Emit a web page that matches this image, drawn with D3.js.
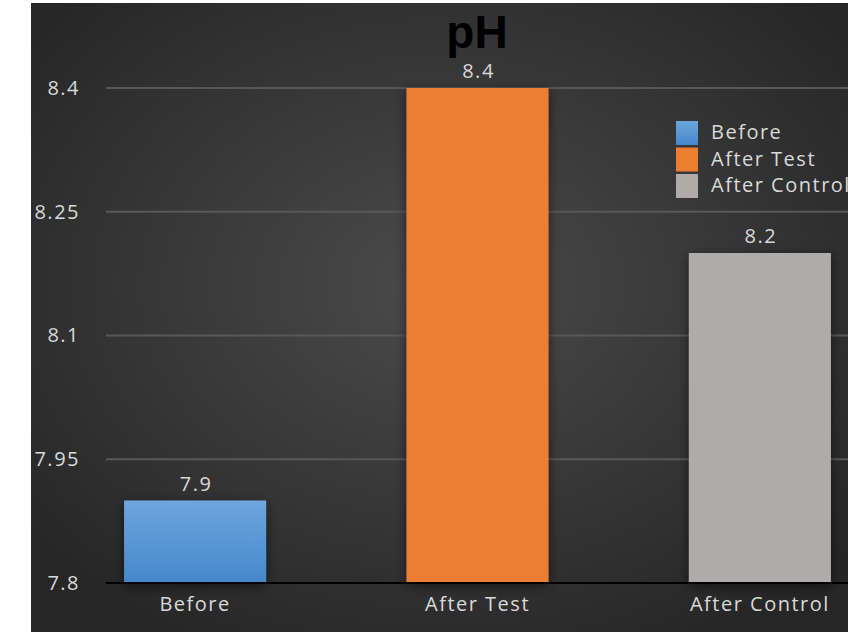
<!DOCTYPE html>
<head>
  <meta charset="utf-8">
  <title>pH</title>
  <style>
    body { margin: 0; background: #fff; }
    svg { display: block; }
  </style>
</head>
<body>
<svg width="848" height="632"></svg>
<script src="https://d3js.org/d3.v7.min.js"></script>
<script>

var categories = ["Before", "After Test", "After Control"];
var values = [7.9, 8.4, 8.2];
var yTicks = [7.8, 7.95, 8.1, 8.25, 8.4];
var colors = ["#5b9bd5", "#ed7d31", "#afabab"];

var svg = d3.select("svg"),
    width = 848,
    height = 632;

var defs = svg.append("defs");

// dark radial background
var bg = defs.append("radialGradient").attr("id", "bg")
    .attr("cx", "50%").attr("cy", "45%").attr("r", "65%");
bg.append("stop").attr("offset", "0%").attr("stop-color", "#4b4b4b");
bg.append("stop").attr("offset", "100%").attr("stop-color", "#262626");

var blue = defs.append("linearGradient").attr("id", "blue")
    .attr("x1", 0).attr("y1", 0).attr("x2", 0).attr("y2", 1);
blue.append("stop").attr("offset", "0%").attr("stop-color", "#6ea6de");
blue.append("stop").attr("offset", "100%").attr("stop-color", "#4687cc");

var shadow = defs.append("filter").attr("id", "shadow")
    .attr("x", "-20%").attr("y", "-20%").attr("width", "140%").attr("height", "140%");
shadow.append("feDropShadow").attr("dx", 0).attr("dy", 3)
    .attr("stdDeviation", 6).attr("flood-color", "#000").attr("flood-opacity", 0.55);

svg.append("rect")
    .attr("x", 31).attr("y", 3)
    .attr("width", width - 31).attr("height", height - 3)
    .attr("fill", "url(#bg)");

var margin = {left: 106, right: -1, top: 88, bottom: 49};

var x = d3.scaleBand()
    .domain(categories)
    .range([margin.left, width - margin.right])
    .paddingInner(0.497)
    .paddingOuter(0.064);

var y = d3.scaleLinear()
    .domain([7.8, 8.4])
    .range([height - margin.bottom, margin.top]);

var font = "'Open Sans', sans-serif";
var textColor = "#d9d9d9";
var spacing = "1.5px";

// gridlines
svg.append("g")
  .selectAll("line")
  .data(yTicks.slice(1))
  .join("line")
    .attr("x1", margin.left).attr("x2", width)
    .attr("y1", function(d) { return y(d); })
    .attr("y2", function(d) { return y(d); })
    .attr("stroke", "#585858")
    .attr("stroke-width", 2);

// y axis labels
var yAxis = svg.append("g")
    .attr("transform", "translate(80,0)")
    .call(d3.axisLeft(y).tickValues(yTicks).tickSize(0).tickPadding(0)
      .tickFormat(function(d) { return String(d); }));
yAxis.select(".domain").remove();
yAxis.selectAll("text")
    .attr("fill", textColor)
    .style("font-family", font)
    .style("font-size", "20px")
    .style("letter-spacing", spacing);

// bars
var colorOf = function(i) { return i === 0 ? "url(#blue)" : colors[i]; };

svg.append("g")
  .selectAll("rect")
  .data(values)
  .join("rect")
    .attr("x", function(d, i) { return x(categories[i]); })
    .attr("y", function(d) { return y(d); })
    .attr("width", x.bandwidth())
    .attr("height", function(d) { return y(7.8) - y(d); })
    .attr("fill", function(d, i) { return colorOf(i); })
    .attr("filter", "url(#shadow)");

// value labels
svg.append("g")
  .selectAll("text")
  .data(values)
  .join("text")
    .attr("x", function(d, i) { return x(categories[i]) + x.bandwidth() / 2 + 1; })
    .attr("y", function(d) { return y(d) - 10; })
    .attr("text-anchor", "middle")
    .attr("fill", textColor)
    .style("font-family", font)
    .style("font-size", "20px")
    .style("letter-spacing", spacing)
    .text(function(d) { return String(d); });

// baseline
svg.append("line")
    .attr("x1", margin.left).attr("x2", width)
    .attr("y1", y(7.8)).attr("y2", y(7.8))
    .attr("stroke", "#000").attr("stroke-width", 2);

// x axis labels
var xAxis = svg.append("g")
    .attr("transform", "translate(0," + (y(7.8) + 14) + ")")
    .call(d3.axisBottom(x).tickSize(0).tickPadding(0));
xAxis.select(".domain").remove();
xAxis.selectAll("text")
    .attr("fill", textColor)
    .style("font-family", font)
    .style("font-size", "20px")
    .style("letter-spacing", spacing);

// title
svg.append("text")
    .attr("x", 477).attr("y", 48)
    .attr("text-anchor", "middle")
    .attr("fill", "#000")
    .style("font-family", "'Liberation Sans', Arial, sans-serif")
    .style("font-weight", "bold")
    .style("font-size", "46px")
    .text("pH");

// legend
var legend = svg.append("g").attr("transform", "translate(676,121)")
  .selectAll("g")
  .data(categories)
  .join("g")
    .attr("transform", function(d, i) { return "translate(0," + (i * 26.5) + ")"; });
legend.append("rect")
    .attr("width", 22).attr("height", 24)
    .attr("fill", function(d, i) { return colorOf(i); });
legend.append("text")
    .attr("x", 35).attr("y", 18)
    .attr("fill", textColor)
    .style("font-family", font)
    .style("font-size", "20px")
    .style("letter-spacing", spacing)
    .text(function(d) { return d; });

</script>
</body>
